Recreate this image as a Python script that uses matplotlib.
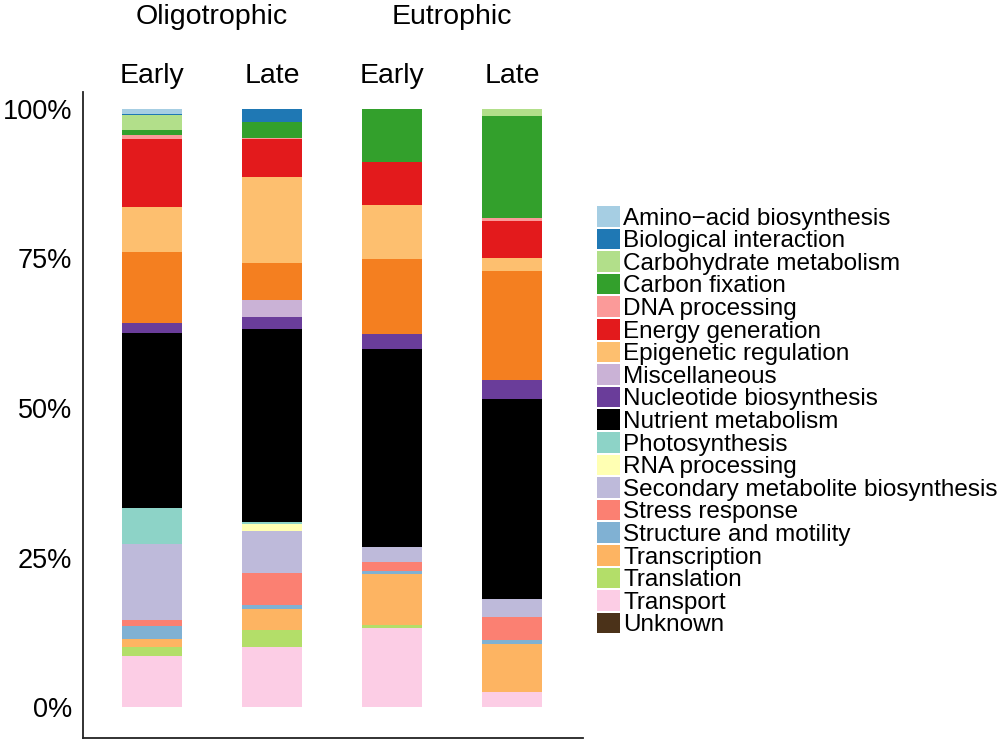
import numpy as np
import matplotlib
matplotlib.use("Agg")
import matplotlib.pyplot as plt
from matplotlib.patches import Patch

plt.rcParams['font.family'] = ['Liberation Sans', 'DejaVu Sans']

# === DATA (% of reads, stacked top -> bottom in this order) ===
categories = [
    'Amino\u2212acid biosynthesis', 'Biological interaction', 'Carbohydrate metabolism',
    'Carbon fixation', 'DNA processing', 'Energy generation', 'Epigenetic regulation',
    '_unlabelled', 'Miscellaneous', 'Nucleotide biosynthesis', 'Nutrient metabolism',
    'Photosynthesis', 'RNA processing', 'Secondary metabolite biosynthesis',
    'Stress response', 'Structure and motility', 'Transcription', 'Translation',
    'Transport', 'Unknown',
]
colors = [
    '#a6cee3', '#1f78b4', '#b2df8a', '#33a02c', '#fb9a99', '#e31a1c', '#fdbf6f',
    '#f47f20', '#cab2d6', '#6a3d9a', '#000000', '#8dd3c7', '#ffffb3', '#bebada',
    '#fb8072', '#80b1d3', '#fdb462', '#b3de69', '#fccde5', '#4b3219',
]

oligo_early = [0.8, 0.3, 2.4, 0.9, 0.7, 11.3, 7.6, 11.8, 0.0, 1.8, 29.3,
               6.0, 0.0, 12.7, 1.1, 2.1, 1.4, 1.4, 8.6, 0.0]
oligo_late = [0.0, 2.2, 0.0, 2.6, 0.3, 6.2, 14.4, 6.2, 2.9, 2.0, 32.2,
              0.2, 1.2, 7.0, 5.3, 0.7, 3.5, 2.9, 10.0, 0.0]
eutro_early = [0.0, 0.0, 0.0, 8.9, 0.0, 7.2, 9.1, 12.5, 0.0, 2.4, 33.3,
               0.0, 0.0, 2.5, 1.4, 0.6, 8.4, 0.6, 13.2, 0.0]
eutro_late = [0.0, 0.0, 1.2, 17.1, 0.4, 6.2, 2.3, 18.1, 0.0, 3.2, 33.5,
              0.0, 0.0, 3.0, 3.8, 0.7, 8.0, 0.0, 2.6, 0.0]

time_labels = ['Early', 'Late', 'Early', 'Late']
group_labels = ['Oligotrophic', 'Eutrophic']

# === PLOTTING ===
samples = np.array([oligo_early, oligo_late, eutro_early, eutro_late])
samples = samples / samples.sum(axis=1, keepdims=True) * 100
x = np.arange(len(samples))

fig = plt.figure(figsize=(10, 7.41), dpi=100)
ax = fig.add_axes([0.083, 0.004, 0.5, 0.872])

bottom = np.zeros(len(samples))
# stack from the bottom (last category) to the top (first category)
for i in range(len(categories) - 1, -1, -1):
    ax.bar(x, samples[:, i], width=0.5, bottom=bottom, color=colors[i], linewidth=0)
    bottom += samples[:, i]

ax.set_xlim(-0.575, 3.592)
ax.set_ylim(-5.18, 102.84)
ax.set_xticks([])
ax.set_yticks([0, 25, 50, 75, 100])
ax.set_yticklabels(['0%', '25%', '50%', '75%', '100%'], fontsize=19.5)
ax.tick_params(axis='y', length=0, pad=8)
for s in ['top', 'right']:
    ax.spines[s].set_visible(False)
for s in ['left', 'bottom']:
    ax.spines[s].set_linewidth(1.3)
    ax.spines[s].set_color('#222222')

for xi, lab in zip(x, time_labels):
    ax.text(xi, 104.3, lab, ha='center', va='baseline', fontsize=20.5, clip_on=False)
for gi, lab in enumerate(group_labels):
    ax.text(2 * gi + 0.5, 114.2, lab, ha='center', va='baseline', fontsize=20.5, clip_on=False)

handles = [Patch(facecolor=c, edgecolor='none', label=n)
           for n, c in zip(categories, colors) if not n.startswith('_')]
fig.legend(handles=handles, loc='upper left', bbox_to_anchor=(0.597, 1 - 206 / 741),
           frameon=False, fontsize=17.5, borderaxespad=0, borderpad=0,
           handlelength=0.95, handleheight=0.93, handletextpad=0.12, labelspacing=-0.045)

plt.savefig('out.png', dpi=100)
